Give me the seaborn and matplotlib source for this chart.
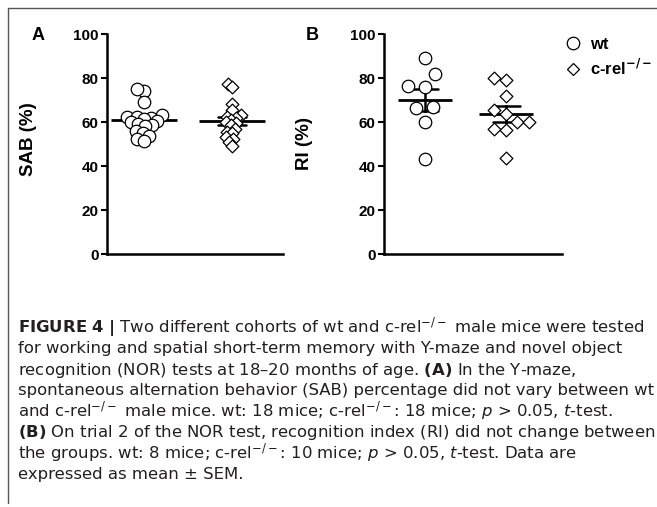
import numpy as np
import pandas as pd
import seaborn as sns
import matplotlib.pyplot as plt
from matplotlib.lines import Line2D
from matplotlib.markers import MarkerStyle
from matplotlib.transforms import Affine2D

groups = ["wt", "c-rel"]

# values (%)
sab_wt = [74, 75, 69, 63, 62.5, 62.5, 62, 61.5, 60.5, 60, 59, 58.5, 58, 56, 55, 53.5, 52.5, 51.5]
sab_crel = [77.5, 76, 68, 65.5, 63, 62.5, 62, 61, 60, 59.5, 58.5, 57, 55.5, 55, 53, 52.5, 51, 49]
ri_wt = [89, 82, 76.5, 76, 66.5, 67, 60, 43]
ri_crel = [80, 79, 72, 65.5, 63.5, 60, 60, 57, 56.5, 43.5]
yticks = [0, 20, 40, 60, 80, 100]

caption_lines = [
    r"$\mathbf{FIGURE\ 4\ |}$ Two different cohorts of wt and c-rel$^{-/-}$ male mice were tested",
    "for working and spatial short-term memory with Y-maze and novel object",
    r"recognition (NOR) tests at 18–20 months of age. $\mathbf{(A)}$ In the Y-maze,",
    "spontaneous alternation behavior (SAB) percentage did not vary between wt",
    r"and c-rel$^{-/-}$ male mice. wt: 18 mice; c-rel$^{-/-}$: 18 mice; $p$ > 0.05, $t$-test.",
    r"$\mathbf{(B)}$ On trial 2 of the NOR test, recognition index (RI) did not change between",
    r"the groups. wt: 8 mice; c-rel$^{-/-}$: 10 mice; $p$ > 0.05, $t$-test. Data are",
    "expressed as mean ± SEM.",
]

sns.set_style("ticks")
plt.rcParams['font.family'] = ['Liberation Sans', 'DejaVu Sans']
plt.rcParams['mathtext.fontset'] = 'dejavusans'
for key in ['text.color', 'axes.labelcolor', 'xtick.color', 'ytick.color', 'axes.edgecolor']:
    plt.rcParams[key] = 'black'

W, H = 657, 507
fig = plt.figure(figsize=(W / 100, H / 100), dpi=100)
ax_a = fig.add_axes([107 / W, 1 - 254 / H, 176 / W, 220 / H])
ax_b = fig.add_axes([384 / W, 1 - 254 / H, 178 / W, 220 / H])

CIRCLE = 9
DIAMOND = 6.5


def long_df(wt, crel):
    return pd.DataFrame({"group": ["wt"] * len(wt) + ["c-rel"] * len(crel),
                         "value": wt + crel})


def draw_panel(ax, df, layout, mean_w, xlim, ylabel, label_xy):
    # swarm is laid out with marker size `layout`, markers drawn at full size
    k = CIRCLE / layout
    for g, m, ms in [("wt", "o", CIRCLE), ("c-rel", "D", DIAMOND)]:
        mk = MarkerStyle(m, transform=Affine2D().scale(k))
        sns.swarmplot(data=df[df.group == g], x="group", y="value", order=groups,
                      marker=mk, size=ms / k, color="white",
                      edgecolor="black", linewidth=0.9, ax=ax)
    sns.pointplot(data=df, x="group", y="value", order=groups, errorbar="se",
                  capsize=0.32, color="black", linestyle="none", marker="_",
                  markersize=mean_w, markeredgewidth=2, err_kws={"linewidth": 1.8},
                  ax=ax)
    ax.set_xlim(*xlim)
    ax.set_ylim(0, 100)
    ax.set_yticks(yticks)
    ax.set_xticks([])
    ax.set_xlabel("")
    ax.set_ylabel(ylabel, fontsize=13.5, fontweight="bold")
    ax.yaxis.set_label_coords(*label_xy)
    ax.tick_params(axis="y", labelsize=11, width=1.5, length=4, pad=2)
    for t in ax.get_yticklabels():
        t.set_fontweight("bold")
    for s in ["left", "bottom"]:
        ax.spines[s].set_linewidth(1.8)
    sns.despine(ax=ax)


draw_panel(ax_a, long_df(sab_wt, sab_crel), 4, 47, (-0.42, 1.58), "SAB (%)", (-0.40, 0.52))
draw_panel(ax_b, long_df(ri_wt, ri_crel), 11, 39, (-0.5, 1.68), "RI (%)", (-0.40, 0.5))

fig.text(38 / W, 1 - 36 / H, "A", fontsize=13, fontweight="bold", ha="center", va="center")
fig.text(312 / W, 1 - 36 / H, "B", fontsize=13, fontweight="bold", ha="center", va="center")

handles = [
    Line2D([], [], marker="o", ls="none", mfc="white", mec="black", ms=CIRCLE, mew=0.9, label="wt"),
    Line2D([], [], marker="D", ls="none", mfc="white", mec="black", ms=DIAMOND, mew=0.9,
           label=r"c-rel$^{\mathbf{-/-}}$"),
]
fig.legend(handles=handles, loc="upper left", bbox_to_anchor=(555 / W, 1 - 29 / H),
           frameon=False, borderpad=0, handletextpad=0.4, handlelength=1.2,
           labelspacing=0.35, prop={"weight": "bold", "size": 12})

# frame lines
fig.add_artist(Line2D([8 / W, 1], [1 - 7.5 / H, 1 - 7.5 / H], transform=fig.transFigure,
                      color="#555555", lw=1))
fig.add_artist(Line2D([8 / W, 8 / W], [1 - 7.5 / H, 1 - 503 / H], transform=fig.transFigure,
                      color="#555555", lw=1))

# caption: size chosen so the first line spans the same width as in the figure
cap_family = ["DejaVu Sans"]
renderer = fig.canvas.get_renderer()
probe = fig.text(0, 0, caption_lines[0], fontsize=11, family=cap_family)
w11 = probe.get_window_extent(renderer).width
probe.remove()
cap_size = 11 * 625 / w11

for i, line in enumerate(caption_lines):
    fig.text(18 / W, 1 - (332.5 + 21 * i) / H, line, fontsize=cap_size, va="baseline",
             ha="left", color="#231f20", family=cap_family)

fig.savefig("out.png", dpi=100)
